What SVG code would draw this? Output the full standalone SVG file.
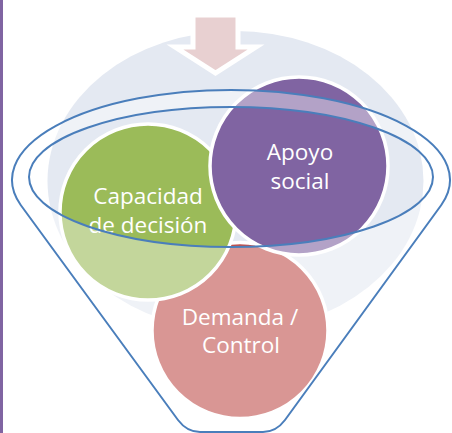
<svg xmlns="http://www.w3.org/2000/svg" width="452" height="433" viewBox="0 0 452 433">
<style>
.circ{stroke:#FFFFFF;stroke-width:3.5}
.lbl{font-family:"Open Sans","Liberation Sans",sans-serif;font-size:22.5px;fill:#FFFFFF;text-anchor:middle}
.rim{fill:none;stroke:#4A7EBB;stroke-width:2}
</style>
<rect x="0" y="0" width="452" height="433" fill="#FFFFFF"/>
<rect id="side-bar" x="0" y="0" width="3" height="433" fill="#8064A2"/>
<ellipse id="backdrop" cx="235.5" cy="181" rx="188" ry="150" fill="#E4E9F2"/>
<g id="arrow">
<polygon points="193,15 238,15 238,47 256,47 215.5,73 175,47 193,47" fill="#E8D0D1" stroke="#FFFFFF" stroke-width="5" stroke-linejoin="miter"/>
</g>
<g id="node-demanda">
<circle class="circ" cx="240" cy="330.5" r="88" fill="#C0504D"/>
<text class="lbl" x="240" y="325">Demanda /</text>
<text class="lbl" x="241" y="353">Control</text>
</g>
<g id="node-capacidad">
<circle class="circ" cx="148" cy="212" r="88" fill="#9BBB59"/>
<text class="lbl" x="148" y="204">Capacidad</text>
<text class="lbl" x="148" y="233">de decisión</text>
</g>
<g id="node-apoyo">
<circle class="circ" cx="299" cy="166" r="89" fill="#8064A2"/>
<text class="lbl" x="300" y="160">Apoyo</text>
<text class="lbl" x="300" y="189">social</text>
</g>
<g id="funnel">
<path d="M20.7 205 A219 90 0 1 1 441.3 205 L285 420 Q276 432 263 432 L200 432 Q187 432 178 420 Z M29 177 A202 70 0 1 0 433 177 A202 70 0 1 0 29 177 Z" fill="#FFFFFF" fill-opacity="0.4" fill-rule="evenodd"/>
<path class="rim" d="M20.7 205 A219 90 0 1 1 441.3 205 L285 420 Q276 432 263 432 L200 432 Q187 432 178 420 Z"/>
<ellipse class="rim" cx="231" cy="177" rx="202" ry="70"/>
</g>
</svg>
